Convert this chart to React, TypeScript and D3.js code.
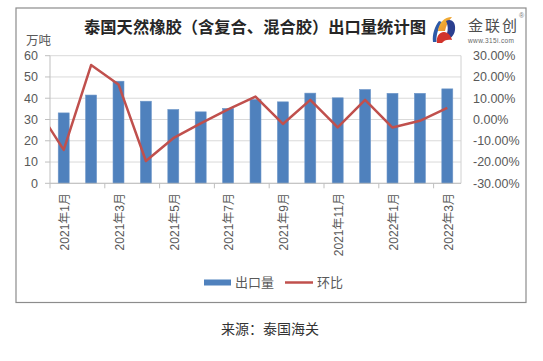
import React from "react";
import * as d3 from "d3";

const months = [
  "2021年1月", "2021年2月", "2021年3月", "2021年4月", "2021年5月",
  "2021年6月", "2021年7月", "2021年8月", "2021年9月", "2021年10月",
  "2021年11月", "2021年12月", "2022年1月", "2022年2月", "2022年3月",
];
const exportVolume = [33.1, 41.5, 48.0, 38.6, 34.7, 33.6, 35.2, 39.4, 38.3, 42.4, 40.2, 44.1, 42.3, 42.3, 44.4];
const momChange = [-14.3, 25.6, 16.5, -19.5, -8.8, -1.8, 4.8, 10.8, -2.1, 9.2, -3.7, 9.2, -3.8, -0.6, 5.5];
const prevMonthMom = 5.8; // 2020年12月 (off-plot, only the clipped segment is visible)
const leftTicks = [0, 10, 20, 30, 40, 50, 60];
const rightTicks = [-30, -20, -10, 0, 10, 20, 30];
const labelEvery = 2;

const W = 543;
const H = 361;
const M = { left: 50, right: 461, top: 55.7, bottom: 183.3 };
const CJK = "'Liberation Sans', Arial, 'Noto Sans CJK SC', sans-serif";

export default function App() {
  const x = d3.scaleBand<string>().domain(months).range([M.left, M.right]).paddingInner(0.6).paddingOuter(0.3);
  const yL = d3.scaleLinear().domain([0, 60]).range([M.bottom, M.top]);
  const yR = d3.scaleLinear().domain([-30, 30]).range([M.bottom, M.top]);
  const step = x.step();
  const bw = x.bandwidth();
  const cx = (m: string) => (x(m) as number) + bw / 2;

  const pts: [number, number][] = [[cx(months[0]) - step, yR(prevMonthMom)]];
  months.forEach((m, i) => pts.push([cx(m), yR(momChange[i])]));
  const linePath = d3.line()(pts) as string;

  const tickXs: number[] = [];
  for (let i = 0; i < months.length; i += labelEvery) tickXs.push(M.left + step * i);

  return (
    <svg width={W} height={H} style={{ position: "absolute", left: 0, top: 0, background: "#fff" }}>
      <rect x={16} y={8} width={510} height={294.5} fill="#fff" stroke="#8c8c8c" strokeWidth={1.2} />
      <defs>
        <clipPath id="plotClip">
          <rect x={M.left} y={M.top - 5} width={M.right - M.left} height={M.bottom - M.top + 10} />
        </clipPath>
        <linearGradient id="lg1" x1="0" y1="0" x2="1" y2="1">
          <stop offset="0" stopColor="#f5c33b" />
          <stop offset="1" stopColor="#e8822a" />
        </linearGradient>
      </defs>

      {/* title */}
      <text x={255} y={33} textAnchor="middle" fontFamily="'Noto Sans CJK SC', sans-serif" fontWeight={700} fontSize={16.3} fill="#262626">
        泰国天然橡胶（含复合、混合胶）出口量统计图
      </text>

      {/* logo */}
      <g>
        <path d="M433,42 C432,34 435,26 439,21 L442,22 C438,29 436,35 436.5,42 Z" fill="#2d5aa8" />
        <path d="M438,31 C439,23 444,17 452,17 C448,21 446,26 445,31 Z" fill="url(#lg1)" />
        <path d="M446,21 C452,18 456,23 455,30 C454,37 449,40 444,39 C448,34 449,27 446,21 Z" fill="#2b3f8f" />
        <path d="M437,43 C436,37 439,32 444,32 C448,32 451,36 452,40 C448,39 444,40 442,43 Z" fill="#d2332b" />
        <text x={468} y={31} fontFamily="'Noto Sans CJK SC', sans-serif" fontSize={15} fill="#4d4d4d" textLength={49}>金联创</text>
        <text x={468} y={43} fontFamily="'Liberation Sans', Arial, sans-serif" fontSize={6.5} fill="#666" textLength={46}>www.315i.com</text>
        <text x={519} y={18} fontFamily="'Liberation Sans', Arial, sans-serif" fontSize={7} fill="#777">®</text>
      </g>

      {/* unit */}
      <text x={26} y={44.5} fontFamily="'Noto Sans CJK SC', sans-serif" fontSize={12.5} fill="#595959">万吨</text>

      {/* gridlines */}
      {leftTicks.map((t) => (
        <line key={"g" + t} x1={M.left} x2={M.right} y1={yL(t)} y2={yL(t)} stroke="#d9d9d9" strokeWidth={1} />
      ))}
      {/* axes */}
      <line x1={M.left} x2={M.left} y1={M.top} y2={M.bottom} stroke="#bfbfbf" />
      <line x1={M.right} x2={M.right} y1={M.top} y2={M.bottom} stroke="#d0d0d0" />
      {leftTicks.map((t) => (
        <g key={"l" + t}>
          <line x1={M.left - 5} x2={M.left} y1={yL(t)} y2={yL(t)} stroke="#bfbfbf" />
          <text x={38} y={yL(t)} dy="0.35em" textAnchor="end" fontFamily={CJK} fontSize={12.5} fill="#595959">{t}</text>
        </g>
      ))}
      {rightTicks.map((t) => (
        <text key={"r" + t} x={473} y={yR(t)} dy="0.35em" fontFamily={CJK} fontSize={12.5} fill="#595959">
          {t.toFixed(2) + "%"}
        </text>
      ))}

      {/* bars */}
      {months.map((m, i) => (
        <rect key={m} x={x(m)} y={yL(exportVolume[i])} width={bw} height={yL(0) - yL(exportVolume[i])} fill="#4f81bd" stroke="#6d96c8" strokeWidth={0.6} />
      ))}

      {/* x axis */}
      <line x1={M.left} x2={M.right} y1={M.bottom} y2={M.bottom} stroke="#bfbfbf" />
      {tickXs.map((tx) => (
        <line key={"t" + tx} x1={tx} x2={tx} y1={M.bottom} y2={M.bottom + 5} stroke="#bfbfbf" />
      ))}
      {months.map((m, i) =>
        i % labelEvery === 0 ? (
          <text key={"x" + m} transform={`translate(${cx(m) + 1},193) rotate(-90)`} dy="0.35em" textAnchor="end" fontFamily={CJK} fontSize={12} fill="#595959">
            {m}
          </text>
        ) : null
      )}

      {/* line */}
      <path d={linePath} fill="none" stroke="#c0504d" strokeWidth={2.5} strokeLinejoin="round" clipPath="url(#plotClip)" />

      {/* legend */}
      <rect x={204} y={279.5} width={27} height={6} fill="#4f81bd" />
      <text x={235} y={282.5} dy="0.35em" fontFamily="'Noto Sans CJK SC', sans-serif" fontSize={13} fill="#595959">出口量</text>
      <line x1={285} x2={313} y1={282.5} y2={282.5} stroke="#c0504d" strokeWidth={2.5} />
      <text x={317} y={282.5} dy="0.35em" fontFamily="'Noto Sans CJK SC', sans-serif" fontSize={13} fill="#595959">环比</text>

      {/* source */}
      <text x={221} y={329} dy="0.35em" fontFamily="'Noto Sans CJK SC', sans-serif" fontSize={14} fill="#333">来源：泰国海关</text>
    </svg>
  );
}
